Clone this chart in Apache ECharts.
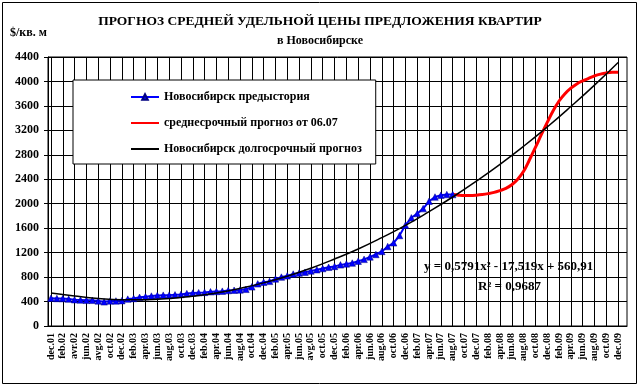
<!DOCTYPE html>
<html>
<head>
<meta charset="utf-8">
<script src="https://cdn.jsdelivr.net/npm/echarts@6/dist/echarts.min.js"></script>
<style>html,body{margin:0;padding:0;background:#fff;}#c{width:640px;height:388px;}</style>
</head>
<body>
<div id="c"></div>
<script>
// Tick labels (every 2nd month, dec.01 .. dec.09)
const tickLabels = ['dec.01','feb.02','avr.02','jun.02','avg.02','oct.02','dec.02','feb.03','apr.03','jun.03','aug.03','oct.03','dec.03','feb.04','apr.04','jun.04','aug.04','oct.04','dec.04','feb.05','apr.05','jun.05','avg.05','oct.05','dec.05','feb.06','apr.06','jun.06','aug.06','oct.06','dec.06','feb.07','apr.07','jun.07','aug.07','oct.07','dec.07','feb.08','apr.08','jun.08','aug.08','oct.08','dec.08','feb.09','apr.09','jun.09','aug.09','oct.09','dec.09'];
const midMonths = ['jan','mar','may','jul','sep','nov'];
// Monthly history (dec.01 .. aug.07)
const history = [455,450,448,440,430,425,420,420,410,395,410,410,415,440,450,470,480,490,500,505,505,510,515,530,540,545,550,560,565,570,580,585,590,600,640,690,715,730,770,800,820,850,865,880,900,920,940,960,975,1000,1015,1030,1060,1090,1130,1170,1220,1300,1360,1480,1650,1770,1840,1920,2040,2110,2140,2150,2150];
// Medium-term forecast (aug.07 .. dec.09), monthly
const forecastStart = 68;
const midForecast = [2150,2140,2135,2135,2140,2150,2165,2185,2215,2250,2310,2400,2530,2720,2920,3130,3330,3520,3680,3800,3890,3960,4010,4050,4090,4120,4140,4150,4150];
// Long-term forecast read every 4 months (dec.01 .. dec.09)
const longStep = 4;
const longForecast = [540,490,450,430,430,450,485,540,615,705,815,945,1095,1260,1445,1645,1870,2110,2370,2645,2940,3255,3590,3940,4310];
const yTicks = {min:0, max:4400, interval:400};

// build monthly categories
const categories = [];
tickLabels.forEach((t, k) => {
  categories.push(t);
  const yr = parseInt(t.split('.')[1], 10) + 1;
  categories.push(midMonths[k % 6] + '.' + String(yr).padStart(2, '0'));
});
const n = categories.length;
const redData = new Array(n).fill(null);
midForecast.forEach((v, k) => { redData[forecastStart + k] = v; });
const blackData = new Array(n).fill(null);
longForecast.forEach((v, k) => { blackData[k * longStep] = v; });

const FONT = '"Liberation Serif", "Times New Roman", serif';
const TS = {fontFamily: FONT, fontSize: 13.5, fontWeight: 'bold', color: '#000'};
const chart = echarts.init(document.getElementById('c'));
chart.setOption({
  animation: false,
  backgroundColor: '#fff',
  textStyle: {fontFamily: FONT},
  title: [
    {text: 'ПРОГНОЗ СРЕДНЕЙ УДЕЛЬНОЙ ЦЕНЫ ПРЕДЛОЖЕНИЯ КВАРТИР', left: 'center', top: 15, padding: 0, textStyle: TS},
    {text: 'в Новосибирске', left: 'center', top: 35, padding: 0, textStyle: Object.assign({}, TS, {fontSize: 12})},
    {text: '$/кв. м', left: 10, top: 27, padding: 0, textStyle: Object.assign({}, TS, {fontSize: 12})}
  ],
  legend: {
    orient: 'vertical', left: 73, top: 80,
    padding: [11, 14, 9, 57], itemGap: 14, itemWidth: 28, itemHeight: 7,
    backgroundColor: '#fff', borderColor: '#000', borderWidth: 1, borderRadius: 0,
    textStyle: {fontFamily: FONT, fontSize: 12, fontWeight: 'bold', color: '#000'},
    data: [
      {name: 'Новосибирск предыстория'},
      {name: 'среднесрочный прогноз от 06.07', itemStyle: {opacity: 0}},
      {name: 'Новосибирск долгосрочный прогноз', itemStyle: {opacity: 0}}
    ]
  },
  grid: {left: 48, right: 13, top: 57, bottom: 62, show: true, borderColor: '#000', borderWidth: 1, backgroundColor: '#fff'},
  xAxis: {
    type: 'category', data: categories, boundaryGap: true,
    axisLine: {lineStyle: {color: '#000', width: 1}},
    axisTick: {interval: 1, alignWithLabel: true, length: 4, lineStyle: {color: '#000'}},
    splitLine: {show: true, interval: 1, alignWithLabel: true, lineStyle: {color: '#000', width: 1}},
    axisLabel: {interval: 1, rotate: 90, margin: 7, fontFamily: FONT, fontSize: 10, fontWeight: 'bold', color: '#000'}
  },
  yAxis: {
    type: 'value', min: yTicks.min, max: yTicks.max, interval: yTicks.interval,
    axisLine: {show: true, lineStyle: {color: '#000'}},
    axisTick: {show: true, length: 4, lineStyle: {color: '#000'}},
    splitLine: {show: true, lineStyle: {color: '#000', width: 1}},
    axisLabel: {margin: 9, formatter: v => String(v), fontFamily: FONT, fontSize: 12, fontWeight: 'bold', color: '#000'}
  },
  series: [
    {name: 'Новосибирск предыстория', type: 'line', data: history,
     symbol: 'triangle', symbolSize: 6.5, showAllSymbol: true,
     lineStyle: {color: '#0000ff', width: 2}, itemStyle: {color: '#0000ff', borderColor: '#000080', borderWidth: 0.5}, z: 4},
    {name: 'среднесрочный прогноз от 06.07', type: 'line', data: redData, smooth: 0.4,
     showSymbol: false, symbol: 'none', lineStyle: {color: '#ff0000', width: 3}, itemStyle: {color: '#ff0000'}, z: 3},
    {name: 'Новосибирск долгосрочный прогноз', type: 'line', data: blackData, smooth: 0.5, connectNulls: true,
     showSymbol: false, symbol: 'none', lineStyle: {color: '#000', width: 1.5}, itemStyle: {color: '#000'}, z: 5}
  ],
  graphic: [
    {type: 'rect', shape: {x: 2.5, y: 2.5, width: 634, height: 381}, style: {fill: 'none', stroke: '#000', lineWidth: 1}, z: 100},
    {type: 'text', left: 424, top: 260, style: {text: 'y = 0,5791x² - 17,519x + 560,91', font: 'bold 13px ' + FONT, fill: '#000'}, z: 100},
    {type: 'text', left: 478, top: 280, style: {text: 'R² = 0,9687', font: 'bold 13px ' + FONT, fill: '#000'}, z: 100}
  ]
});
</script>
</body>
</html>
